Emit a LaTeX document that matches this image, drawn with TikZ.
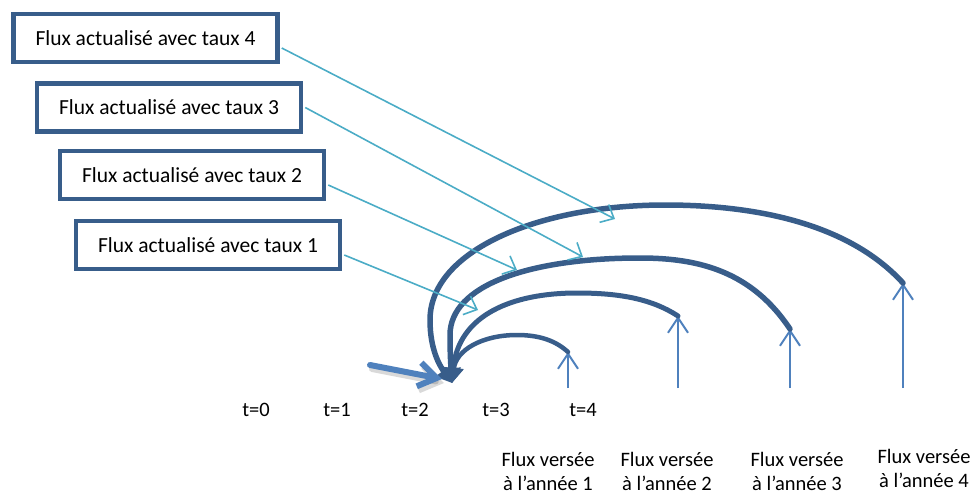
\documentclass[tikz,border=0pt]{standalone}
\usepackage{fontspec}
\setmainfont{Carlito}
\usetikzlibrary{arrows.meta,calc}
\definecolor{boxblue}{HTML}{385D8A}
\definecolor{arrowblue}{HTML}{4F81BD}
\definecolor{linkcyan}{HTML}{4BACC6}
\tikzset{
  ratebox/.style={draw=boxblue, line width=4.5pt, fill=white, minimum width=264pt,
    minimum height=48pt, inner sep=0pt, font=\fontsize{21.5}{24}\selectfont},
  lbl/.style={inner sep=0pt, font=\fontsize{20.5}{24}\selectfont, align=center},
  link/.style={draw=linkcyan, line width=1.6pt,
    -{Straight Barb[length=11pt,width=20pt,line width=1.6pt]}},
  payflow/.style={draw=arrowblue, line width=2pt,
    -{Straight Barb[length=15pt,width=20pt,line width=2pt]}},
  discount/.style={draw=boxblue, line cap=round,
    -{Triangle[length=15pt,width=19pt]}},
}
\begin{document}
\begin{tikzpicture}[x=1pt,y=1pt]
\useasboundingbox (0,0) rectangle (980,-495);

% rate boxes
\node[ratebox] (b4) at (145.5,-38)  {Flux actualisé avec taux 4};
\node[ratebox] (b3) at (169,-107.5) {Flux actualisé avec taux 3};
\node[ratebox] (b2) at (192,-175)   {Flux actualisé avec taux 2};
\node[ratebox] (b1) at (208,-245)   {Flux actualisé avec taux 1};

% time axis labels
\node[lbl] (t0) at (256,-410) {t=0};
\node[lbl] (t1) at (337,-410) {t=1};
\node[lbl] (t2) at (415,-410) {t=2};
\node[lbl] (t3) at (496,-410) {t=3};
\node[lbl] (t4) at (583,-410) {t=4};

% payment labels
\node[lbl] (p1) at (548,-471) {Flux versée\\à l’année 1};
\node[lbl] (p2) at (667,-471) {Flux versée\\à l’année 2};
\node[lbl] (p3) at (797,-471) {Flux versée\\à l’année 3};
\node[lbl] (p4) at (924,-468) {Flux versée\\à l’année 4};

% points on the time line
\coordinate (origin) at (452,-383);
\coordinate (f1) at (568,-352);
\coordinate (f2) at (678,-316);
\coordinate (f3) at (790,-329);
\coordinate (f4) at (903,-283);
\coordinate (f1b) at (568,-388);
\coordinate (f2b) at (678,-388);
\coordinate (f3b) at (790,-388);
\coordinate (f4b) at (903,-388);

% payments
\draw[payflow] (f1b) -- (f1);
\draw[payflow] (f2b) -- (f2);
\draw[payflow] (f3b) -- (f3);
\draw[payflow] (f4b) -- (f4);

% discounting arcs back to t=0
\draw[discount, line width=4.5pt] (f1)
  .. controls (556,-341) and (540,-335) .. (517,-335)
  .. controls (482,-335) and (456,-350) .. (origin);
\draw[discount, line width=5pt] (f2)
  .. controls (652,-299) and (620,-293) .. (577,-293)
  .. controls (512,-293) and (458,-315) .. (origin);
\draw[discount, line width=5.5pt] (f3)
  .. controls (752,-272) and (700,-258) .. (640,-258)
  .. controls (530,-258) and (450,-285) .. (450,-335)
  .. controls (450,-355) and (451,-368) .. (origin);
\draw[discount, line width=5.5pt] (f4)
  .. controls (850,-225) and (760,-205) .. (665,-205)
  .. controls (540,-205) and (430,-250) .. (430,-320)
  .. controls (430,-350) and (440,-366) .. (origin);

% targets on the arcs
\coordinate (a4) at (615,-219);
\coordinate (a3) at (583,-257);
\coordinate (a2) at (517,-270);
\coordinate (a1) at (478,-310);

\draw[link] ([xshift=2pt,yshift=-10pt]b4.east) -- (a4);
\draw[link] ([xshift=2pt]b3.east) -- (a3);
\draw[link] ([xshift=2pt,yshift=-10pt]b2.east) -- (a2);
\draw[link] ([xshift=2pt,yshift=-10pt]b1.east) -- (a1);

% pointer to t=0 with soft shadow
\coordinate (ps) at (370,-365);
\coordinate (pe) at (442,-379);
\draw[black, opacity=0.15, line width=6pt, line cap=round,
  -{Straight Barb[length=18pt,width=24pt,line width=6pt]}]
  ([shift={(2,-4)}]ps) -- ([shift={(2,-4)}]pe);
\draw[arrowblue, line width=6pt, line cap=round,
  -{Straight Barb[length=18pt,width=24pt,line width=6pt]}] (ps) -- (pe);
\end{tikzpicture}
\end{document}
